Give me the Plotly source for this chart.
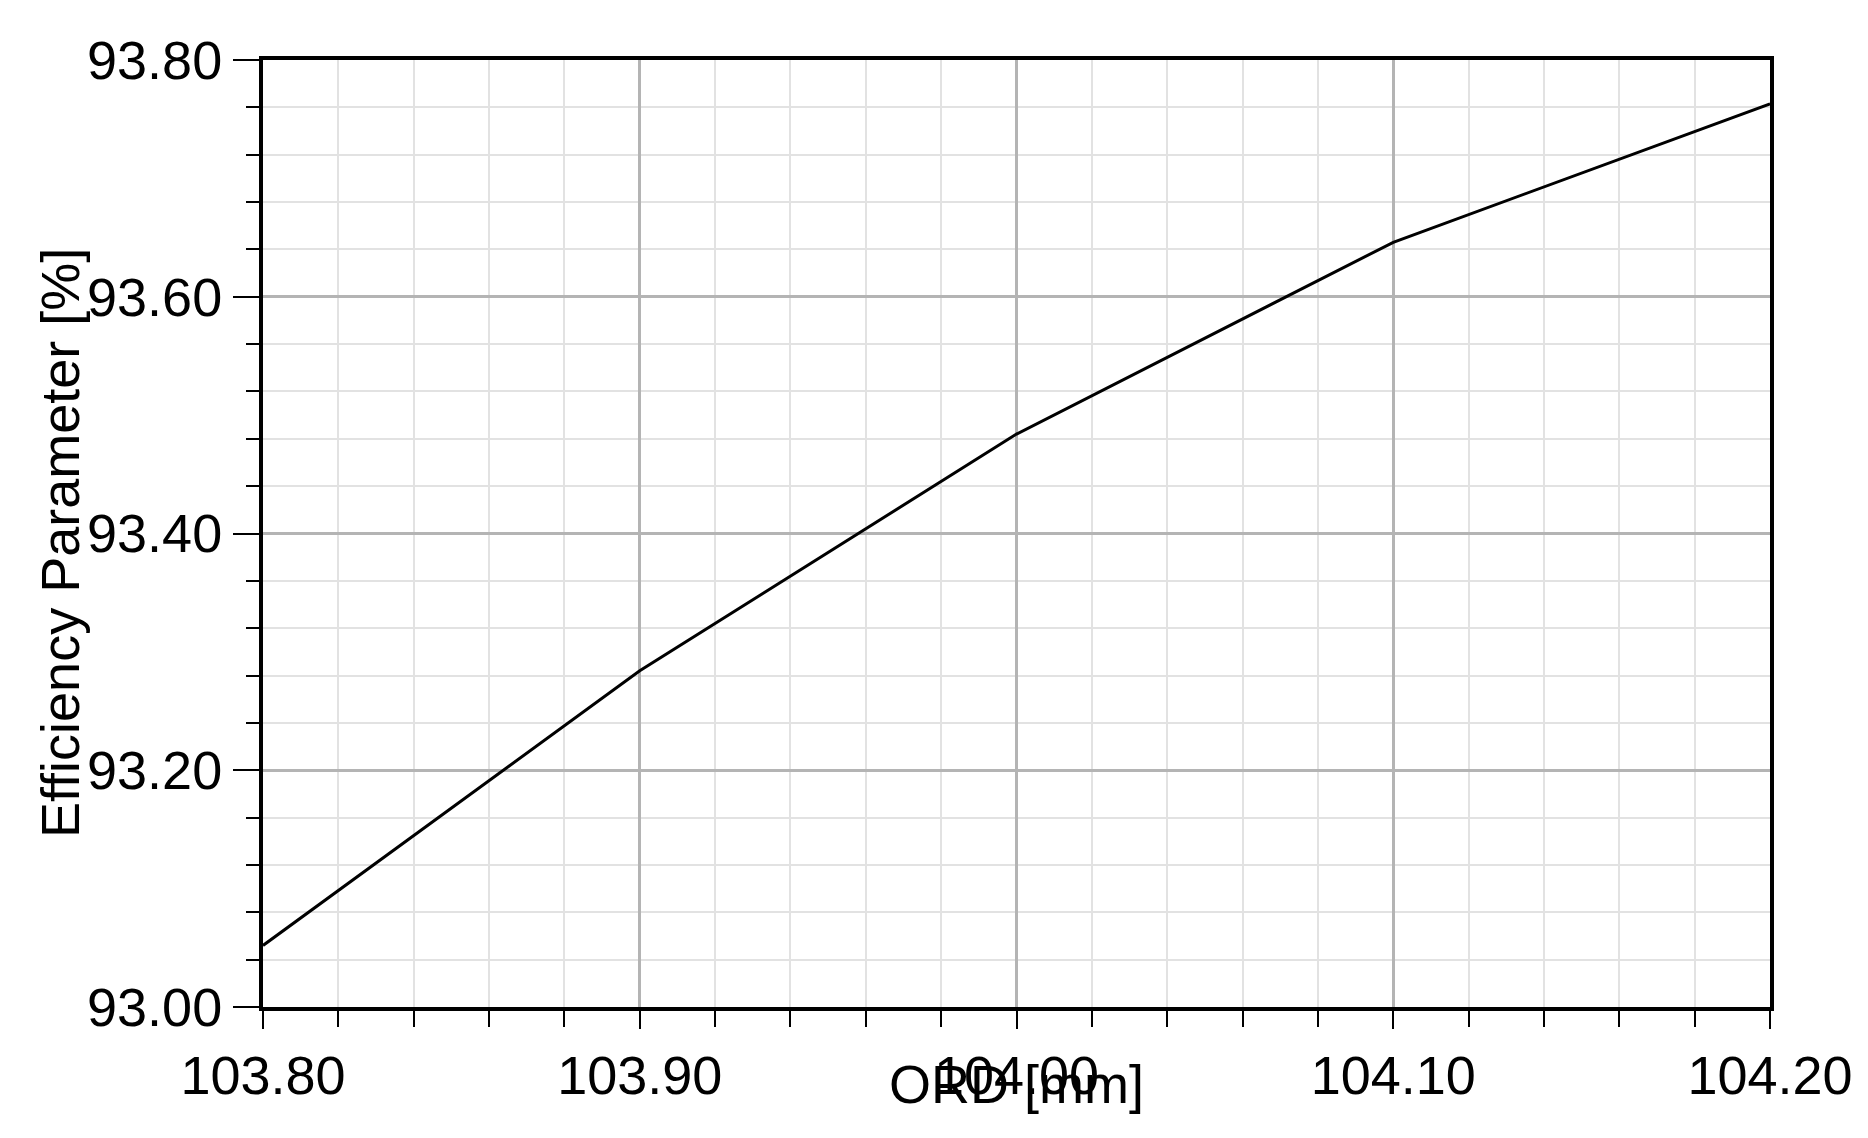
import plotly.graph_objects as go

# data
ord_mm = [103.80, 103.90, 104.00, 104.10, 104.20]
efficiency = [93.052, 93.284, 93.484, 93.646, 93.763]

x_ticks = [103.80, 103.90, 104.00, 104.10, 104.20]
x_labels = ["103.80", "103.90", "104.00", "104.10", "104.20"]
y_ticks = [93.00, 93.20, 93.40, 93.60, 93.80]
y_labels = ["93.00", "93.20", "93.40", "93.60", "93.80"]

font_family = "Liberation Sans, Arial, sans-serif"

fig = go.Figure(go.Scatter(
    x=ord_mm,
    y=efficiency,
    mode="lines",
    line=dict(color="black", width=3),
    showlegend=False,
))

axis_common = dict(
    showline=True,
    linecolor="black",
    linewidth=4,
    mirror=True,
    ticks="outside",
    tickcolor="black",
    tickwidth=2,
    showgrid=True,
    gridcolor="#b4b4b4",
    gridwidth=2.5,
    zeroline=False,
    tickfont=dict(family=font_family, size=54, color="black"),
)

fig.update_xaxes(
    **axis_common,
    range=[103.80, 104.20],
    tickmode="array",
    tickvals=x_ticks,
    ticktext=x_labels,
    ticklen=18,
    minor=dict(dtick=0.02, showgrid=True, gridcolor="#e2e2e2", gridwidth=2,
               ticks="outside", ticklen=16, tickcolor="black", tickwidth=2),
)
fig.update_yaxes(
    **axis_common,
    range=[93.00, 93.80],
    tickmode="array",
    tickvals=y_ticks,
    ticktext=y_labels,
    ticklen=26,
    minor=dict(dtick=0.04, showgrid=True, gridcolor="#e2e2e2", gridwidth=2,
               ticks="outside", ticklen=13, tickcolor="black", tickwidth=2),
)

# axis titles as annotations so they can sit tight to the tick labels
fig.add_annotation(
    text="ORD [mm]", xref="paper", yref="paper", x=0.5, y=0,
    xanchor="center", yanchor="middle", yshift=-77, showarrow=False,
    font=dict(family=font_family, size=54, color="black"),
)
fig.add_annotation(
    text="Efficiency Parameter [%]", xref="paper", yref="paper", x=0, y=0.49,
    xanchor="center", yanchor="middle", xshift=-203, textangle=-90, showarrow=False,
    font=dict(family=font_family, size=54, color="black"),
)

fig.update_layout(
    width=1868,
    height=1138,
    paper_bgcolor="white",
    plot_bgcolor="white",
    margin=dict(l=255, r=106, t=52, b=139),
)

fig.write_html("out.html")
